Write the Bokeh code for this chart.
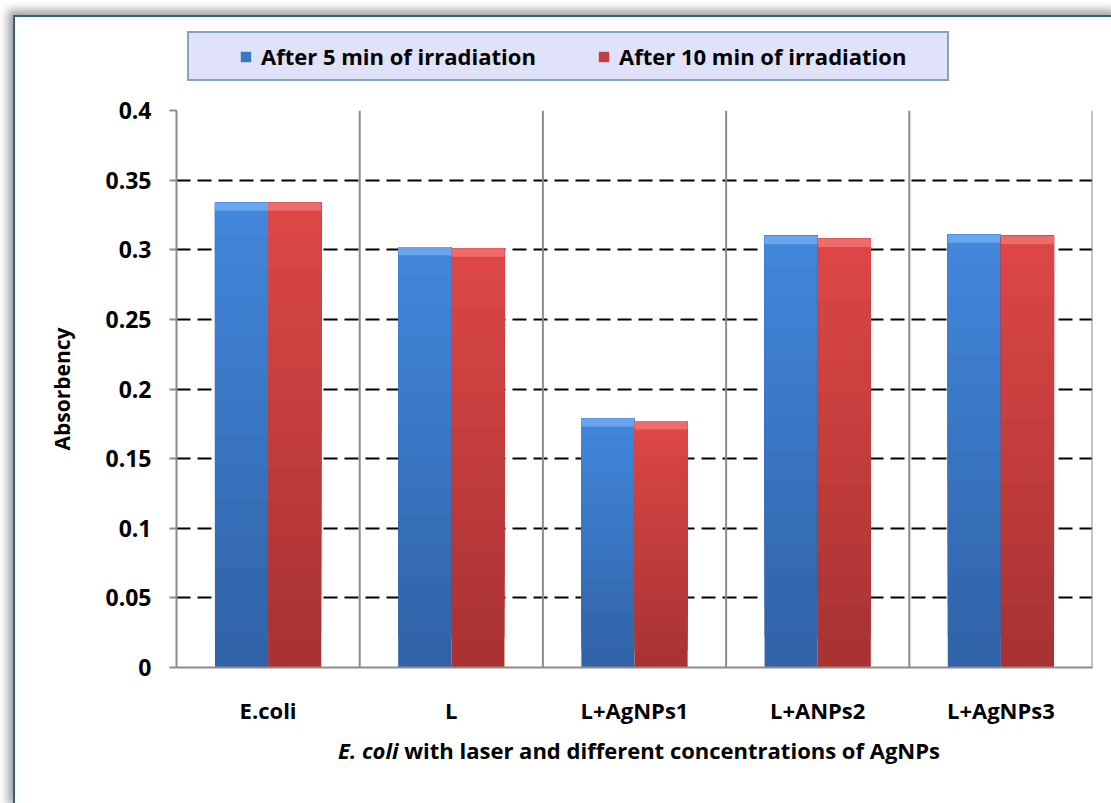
from bokeh.plotting import figure
from bokeh.models import (ColumnDataSource, FactorRange, Range1d, FixedTicker,
                          NumeralTickFormatter, Legend, LegendItem, Span, Div)
from bokeh.layouts import column
from bokeh.transform import dodge
from bokeh.embed import file_html
from bokeh.resources import INLINE

# ---------------- data ----------------
categories = ["E.coli", "L", "L+AgNPs1", "L+ANPs2", "L+AgNPs3"]
after_5min = [0.334, 0.302, 0.179, 0.310, 0.311]
after_10min = [0.334, 0.301, 0.177, 0.308, 0.310]
y_ticks = [0, 0.05, 0.1, 0.15, 0.2, 0.25, 0.3, 0.35, 0.4]
series_names = ["After 5 min of irradiation", "After 10 min of irradiation"]
x_title_italic = "E. coli"
x_title_rest = "with laser and different concentrations of AgNPs"
y_title = "Absorbency"

FONT = "Open Sans"
GREY = "#8c8c8c"
TEAL = "#2f6475"

p = figure(width=1096, height=635,
           x_range=FactorRange(factors=categories, range_padding=0),
           y_range=Range1d(0, 0.4),
           output_backend="svg", toolbar_location=None,
           min_border_left=161, min_border_right=19,
           min_border_top=15, min_border_bottom=63,
           background_fill_color="white", border_fill_color="white")
p.outline_line_color = None


def lerp(c0, c1, t):
    a = [int(c0[i:i + 2], 16) for i in (1, 3, 5)]
    b = [int(c1[i:i + 2], 16) for i in (1, 3, 5)]
    return "#" + "".join("%02x" % round(a[i] + (b[i] - a[i]) * t) for i in range(3))


NB = 14


def band_source(values, c_bottom, c_top):
    xs, bots, tops, cols = [], [], [], []
    for cat, v in zip(categories, values):
        for k in range(NB):
            xs.append(cat)
            bots.append(v * k / NB)
            tops.append(v)
            cols.append(lerp(c_bottom, c_top, k / (NB - 1)))
    return ColumnDataSource(dict(x=xs, bottom=bots, top=tops, color=cols))


def bevel_source(values):
    return ColumnDataSource(dict(x=categories,
                                 top=values,
                                 bottom=[v - 0.0060 for v in values]))


OFF = 0.145
W = 0.29
series = [
    (after_5min, -OFF, "#3063a8", "#4186da", "#6eaaf0", "#3a78c6"),
    (after_10min, OFF, "#a93333", "#dc4646", "#f07070", "#c83d3d"),
]

for vals, off, cb, ct, cbev, cmid in series:
    src = band_source(vals, cb, ct)
    p.vbar(x=dodge("x", off, range=p.x_range), top="top", bottom="bottom",
           width=W, source=src, fill_color="color", line_color=None)
    p.vbar(x=dodge("x", off, range=p.x_range), top="top", bottom="bottom",
           width=W, source=bevel_source(vals), fill_color=cbev,
           line_color=None, fill_alpha=0.9)

# ---------------- axes ----------------
p.yaxis.ticker = FixedTicker(ticks=y_ticks)
p.yaxis.formatter = NumeralTickFormatter(format="0.[00]")
p.yaxis.major_label_text_font = FONT
p.yaxis.major_label_text_font_style = "bold"
p.yaxis.major_label_text_font_size = "23px"
p.yaxis.major_label_text_color = "black"
p.yaxis.major_tick_out = 7
p.yaxis.major_tick_in = 0
p.yaxis.major_tick_line_color = GREY
p.yaxis.major_tick_line_width = 2
p.yaxis.minor_tick_line_color = None
p.yaxis.axis_line_color = GREY
p.yaxis.axis_line_width = 2
p.yaxis.major_label_standoff = 18
p.yaxis.axis_label = y_title
p.yaxis.axis_label_text_font = FONT
p.yaxis.axis_label_text_font_style = "bold"
p.yaxis.axis_label_text_font_size = "21px"
p.yaxis.axis_label_text_color = "black"
p.yaxis.axis_label_standoff = 26

p.xaxis.major_tick_line_color = None
p.xaxis.major_tick_out = 0
p.xaxis.major_tick_in = 0
p.xaxis.minor_tick_line_color = None
p.xaxis.axis_line_color = GREY
p.xaxis.axis_line_width = 2
p.xaxis.major_label_standoff = 27
p.xaxis.major_label_text_font = FONT
p.xaxis.major_label_text_font_style = "bold"
p.xaxis.major_label_text_font_size = "22px"
p.xaxis.major_label_text_color = "black"

p.ygrid.grid_line_color = "black"
p.ygrid.grid_line_width = 2
p.ygrid.grid_line_dash = "14 7"
p.xgrid.grid_line_color = None

for i in range(1, len(categories) + 1):
    p.add_layout(Span(location=i, dimension="height", line_color=GREY,
                      line_width=2, level="underlay"))

# ---------------- legend strip (own small canvas above the chart) ----------------
pl = figure(width=1096, height=78, x_range=Range1d(0, 1), y_range=Range1d(0, 1),
            x_axis_type=None, y_axis_type=None, output_backend="svg",
            toolbar_location=None, min_border=0,
            background_fill_color="white", border_fill_color="white")
pl.outline_line_color = None
pl.grid.visible = False
# swatch-only renderers: their single placeholder lies outside this strip's view
legend_renderers = []
for (vals, off, cb, ct, cbev, cmid) in series:
    legend_renderers.append(pl.vbar(x=[-5], top=[-5], bottom=[-6], width=1,
                                    fill_color=cmid, line_color=None))

legend = Legend(items=[LegendItem(label=series_names[0], renderers=[legend_renderers[0]]),
                       LegendItem(label=series_names[1], renderers=[legend_renderers[1]])],
                location=(11, 14), orientation="horizontal",
                title=" ", title_location="left", title_standoff=12,
                title_text_font=FONT, title_text_font_size="22px",
                glyph_width=13, glyph_height=13, label_standoff=9,
                spacing=16, label_width=320, padding=8, margin=0,
                background_fill_color="#dfe2f8", background_fill_alpha=1.0,
                border_line_color=TEAL, border_line_width=2,
                label_text_font=FONT, label_text_font_style="bold",
                label_text_font_size="22px", label_text_color="black")
pl.add_layout(legend)

# ---------------- x title (mixed italic) ----------------
title_html = ('<div style="width:916px; margin-left:161px; text-align:center; '
              'font-family:\'Open Sans\'; font-weight:bold; font-size:22px; '
              'color:black; padding-top:0px;">'
              '<i>%s</i> %s</div>' % (x_title_italic, x_title_rest))
x_title = Div(text=title_html, width=1096, height=70,
              styles={"background-color": "white"})

root = column(pl, p, x_title,
              styles={"margin-left": "13px", "margin-top": "15px",
                      "border-left": "2px solid " + TEAL,
                      "border-top": "2px solid " + TEAL,
                      "box-shadow": "-5px -5px 9px rgba(0,0,0,0.38)",
                      "background-color": "white"})

open("out.html", "w").write(file_html(root, INLINE))
